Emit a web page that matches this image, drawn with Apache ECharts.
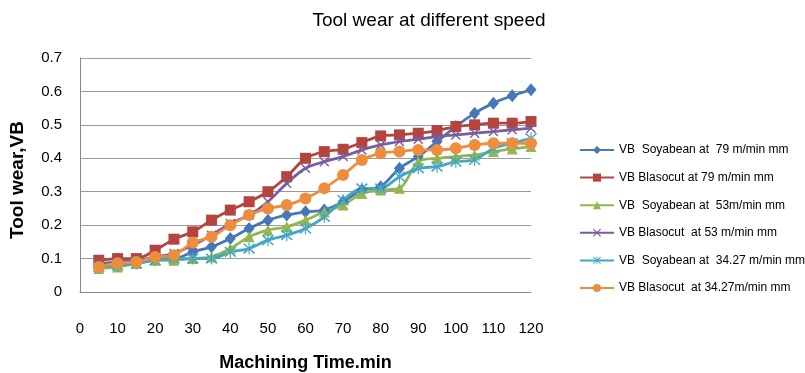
<!DOCTYPE html>
<html>
<head>
<meta charset="utf-8">
<script src="https://cdn.jsdelivr.net/npm/echarts@6/dist/echarts.min.js"></script>
<style>html,body{margin:0;padding:0;background:#fff}#c{width:805px;height:373px}</style>
</head>
<body>
<div id="c"></div>
<script>
var times = [5,10,15,20,25,30,35,40,45,50,55,60,65,70,75,80,85,90,95,100,105,110,115,120];
var xTicks = [0,10,20,30,40,50,60,70,80,90,100,110,120];
var yTicks = [0,0.1,0.2,0.3,0.4,0.5,0.6,0.7];
var seriesNames = [
  "VB  Soyabean at  79 m/min mm",
  "VB Blasocut at 79 m/min mm",
  "VB  Soyabean at  53m/min mm",
  "VB Blasocut  at 53 m/min mm",
  "VB  Soyabean at  34.27 m/min mm",
  "VB Blasocut  at 34.27m/min mm"
];
var soy79 = [0.08,0.085,0.09,0.10,0.10,0.12,0.135,0.16,0.19,0.215,0.23,0.24,0.245,0.27,0.305,0.315,0.37,0.405,0.45,0.495,0.535,0.565,0.587,0.605];
var bla79 = [0.095,0.10,0.10,0.125,0.158,0.18,0.215,0.245,0.27,0.30,0.345,0.40,0.42,0.427,0.447,0.467,0.47,0.475,0.483,0.495,0.50,0.505,0.505,0.51];
var soy53 = [0.07,0.075,0.085,0.095,0.095,0.10,0.105,0.13,0.165,0.185,0.195,0.215,0.24,0.26,0.295,0.305,0.31,0.39,0.40,0.405,0.41,0.42,0.428,0.435];
var bla53 = [0.085,0.09,0.095,0.105,0.115,0.14,0.17,0.205,0.23,0.27,0.325,0.37,0.39,0.405,0.425,0.44,0.45,0.457,0.465,0.47,0.475,0.48,0.485,0.49];
var soy34 = [0.075,0.08,0.085,0.095,0.10,0.10,0.10,0.12,0.13,0.155,0.17,0.19,0.225,0.275,0.31,0.31,0.345,0.37,0.375,0.39,0.395,0.43,0.445,0.46];
var bla34 = [0.075,0.086,0.09,0.105,0.11,0.148,0.165,0.20,0.23,0.25,0.26,0.28,0.31,0.35,0.395,0.415,0.42,0.425,0.425,0.43,0.44,0.445,0.445,0.445];

var allValues = [soy79, bla79, soy53, bla53, soy34, bla34];
var colors = ['#4677B8','#B5443F','#93B74F','#7A5C9F','#40A7C4','#EE8D3E'];
var xPath = 'path://M0,1L1,0L5,4L9,0L10,1L6,5L10,9L9,10L5,6L1,10L0,9L4,5Z';
var starPath = 'path://M0,1.5L1,0.5L5,4.3L9,0.5L10,1.5L5.8,5L10,8.5L9,9.5L5,5.7L1,9.5L0,8.5L4.2,5Z M4.5,0L5.5,0L5.5,10L4.5,10Z';
var symbols = ['diamond','rect','triangle',xPath,starPath,'circle'];
var sizes = [[11,13],11,11,10,12,12];

var chart = echarts.init(document.getElementById('c'), null, {renderer:'canvas'});
var series = allValues.map(function(vals, i){
  return {
    name: seriesNames[i],
    type: 'line',
    data: times.map(function(t, j){ return [t, vals[j]]; }),
    smooth: 0.3,
    symbol: symbols[i],
    symbolSize: sizes[i],
    showAllSymbol: true,
    lineStyle: {width: 2.8, color: colors[i]},
    itemStyle: {color: colors[i]},
    emphasis: {disabled: true},
    animation: false
  };
});

chart.setOption({
  animation: false,
  title: {
    text: 'Tool wear at different speed',
    left: 424, top: 6, textAlign: 'center',
    textStyle: {fontFamily: 'Liberation Sans', fontSize: 19, fontWeight: 'normal', color: '#000'}
  },
  graphic: [{
    type: 'text', x: 18, y: 180, rotation: Math.PI / 2,
    style: {text: 'Tool wear,VB', fontFamily: 'Liberation Sans', fontSize: 19, fontWeight: 'bold',
            fill: '#000', align: 'center', verticalAlign: 'middle'}
  }],
  grid: {left: 80, right: 274, top: 58, bottom: 81, containLabel: false, outerBoundsMode: 'none'},
  legend: {
    orient: 'vertical', left: 574, top: 139,
    itemWidth: 34, itemHeight: 10, itemGap: 15.6,
    textStyle: {fontFamily: 'Liberation Sans', fontSize: 12, color: '#000'},
    data: seriesNames
  },
  xAxis: {
    type: 'value', min: xTicks[0], max: xTicks[xTicks.length-1], interval: xTicks[1]-xTicks[0],
    name: 'Machining Time.min', nameLocation: 'middle', nameGap: 62,
    nameTextStyle: {fontFamily: 'Liberation Sans', fontSize: 18, fontWeight: 'bold', color: '#000'},
    axisLine: {show: true, lineStyle: {color: '#898989', width: 1}},
    axisTick: {show: false},
    splitLine: {show: false},
    axisLabel: {fontFamily: 'Liberation Sans', fontSize: 15, color: '#000', margin: 29}
  },
  yAxis: {
    type: 'value', min: yTicks[0], max: yTicks[yTicks.length-1], interval: 0.1,
    axisLine: {show: true, lineStyle: {color: '#898989', width: 1}},
    axisTick: {show: false},
    splitLine: {show: true, lineStyle: {color: '#9a9a9a', width: 1}},
    axisLabel: {fontFamily: 'Liberation Sans', fontSize: 15, color: '#000', margin: 18}
  },
  series: series
});
</script>
</body>
</html>
